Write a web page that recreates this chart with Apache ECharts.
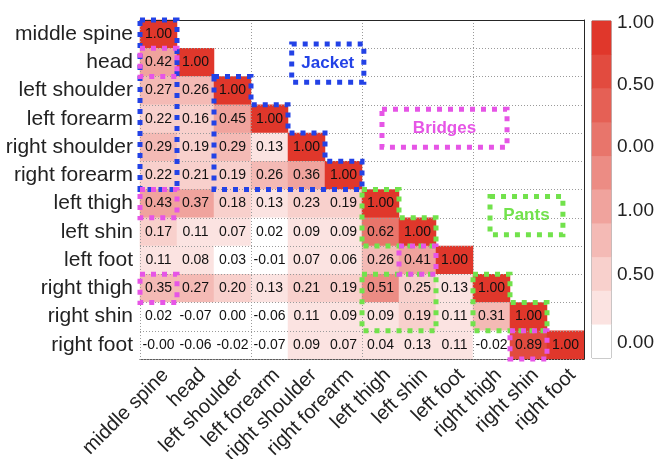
<!DOCTYPE html>
<html>
<head>
<meta charset="utf-8">
<script src="https://cdn.jsdelivr.net/npm/echarts@6/dist/echarts.min.js"></script>
<style>html,body{margin:0;padding:0;background:#fff}#c{width:655px;height:459px}</style>
</head>
<body>
<div id="c"></div>
<script>
// ---- data ----
const parts = ['middle spine','head','left shoulder','left forearm','right shoulder','right forearm','left thigh','left shin','left foot','right thigh','right shin','right foot'];
const corrRows = [
  [1.00],
  [0.42,1.00],
  [0.27,0.26,1.00],
  [0.22,0.16,0.45,1.00],
  [0.29,0.19,0.29,0.13,1.00],
  [0.22,0.21,0.19,0.26,0.36,1.00],
  [0.43,0.37,0.18,0.13,0.23,0.19,1.00],
  [0.17,0.11,0.07,0.02,0.09,0.09,0.62,1.00],
  [0.11,0.08,0.03,-0.01,0.07,0.06,0.26,0.41,1.00],
  [0.35,0.27,0.20,0.13,0.21,0.19,0.51,0.25,0.13,1.00],
  [0.02,-0.07,0.00,-0.06,0.11,0.09,0.09,0.19,0.11,0.31,1.00],
  [-0.004,-0.06,-0.02,-0.07,0.09,0.07,0.04,0.13,0.11,-0.02,0.89,1.00]
];
const levelThresholds = [-0.07,0.037,0.144,0.251,0.358,0.465,0.572,0.679,0.786,0.893,1.00];
const levelColors = ['#ffffff','#fbe3e1','#f8d0cc','#f4bab5','#f0a39d','#ec8c84','#e8756b','#e56055','#e24b3f','#e0372b'];
const cbTickPos = [0.994,0.811,0.627,0.438,0.246,0.044];
const cbTickText = ['1.00','0.50','0.00','1.00','0.50','0.00'];

// annotations (in cell-boundary units: [col, row])
const blueShapes = [
  [[0,0],[1,0],[1,6],[0,6]],
  [[2,2],[3,2],[3,3],[4,3],[4,4],[5,4],[5,5],[6,5],[6,6],[2,6]]
];
const magentaCells = [[0,1],[0,6],[0,9],[7,8],[10,11]];
const greenShapes = [
  [[6,6],[7,6],[7,7],[8,7],[8,8],[6,8]],
  [[6,9],[8,9],[8,11],[6,11]],
  [[9,9],[10,9],[10,10],[11,10],[11,11],[9,11]]
];
const labelBoxes = [
  {text:'Jacket', c0:4.1, r0:0.85, c1:6.05, r1:2.2, color:'#2342e6'},
  {text:'Bridges', c0:6.54, r0:3.16, c1:9.92, r1:4.5, color:'#e655e6'},
  {text:'Pants', c0:9.46, r0:6.25, c1:11.43, r1:7.6, color:'#72e24c'}
];

// ---- build ----
const heatData = [];
corrRows.forEach((row, i) => row.forEach((v, j) => heatData.push([j, i, v])));
const bandIdx = levelColors.map((_, i) => String(i));
const cbData = levelColors.map((_, i) => [0, i, (levelThresholds[i] + levelThresholds[i+1]) / 2]);
const pieces = levelColors.map((col, i) => {
  const p = {color: col};
  if (i > 0) p.gte = levelThresholds[i];
  if (i < levelColors.length - 1) p.lt = levelThresholds[i+1];
  return p;
});
const cbMap = {};
cbTickPos.forEach((p, i) => cbMap[p.toFixed(3)] = cbTickText[i]);

const FONT = '"Liberation Sans", Arial, sans-serif';
const AX = '#262626';
const chart = echarts.init(document.getElementById('c'), null, {renderer: 'canvas'});
chart.setOption({
  animation: false,
  backgroundColor: '#fff',
  textStyle: {fontFamily: FONT},
  grid: [
    {left: 140, top: 20, width: 444, height: 339, show: false, containLabel: false, outerBoundsMode: 'none'},
    {left: 592, top: 21, width: 19, height: 337, show: true, borderColor: '#777', borderWidth: 1, backgroundColor: 'transparent', containLabel: false, outerBoundsMode: 'none'}
  ],
  xAxis: [
    {type: 'category', data: parts, gridIndex: 0, position: 'bottom',
     axisLine: {lineStyle: {color: AX}}, axisTick: {inside: true, alignWithLabel: true, length: 4, lineStyle: {color: AX}},
     axisLabel: {rotate: 45, fontSize: 20, color: '#222', fontFamily: FONT, margin: 6, interval: 0, verticalAlign: 'top', hideOverlap: false},
     splitLine: {show: false}},
    {type: 'category', data: parts, gridIndex: 0, position: 'top', z: 3,
     axisLine: {lineStyle: {color: AX}}, axisTick: {inside: true, alignWithLabel: true, length: 4, lineStyle: {color: AX}},
     axisLabel: {show: false},
     splitLine: {show: true, lineStyle: {color: '#9a9a9a', type: [1, 2], width: 1}}},
    {type: 'category', data: ['cb'], gridIndex: 1, show: false}
  ],
  yAxis: [
    {type: 'category', data: parts, gridIndex: 0, inverse: true, position: 'left',
     axisLine: {lineStyle: {color: AX}}, axisTick: {inside: true, alignWithLabel: true, length: 4, lineStyle: {color: AX}},
     axisLabel: {fontSize: 21, color: '#222', fontFamily: FONT, margin: 7, interval: 0},
     splitLine: {show: false}},
    {type: 'category', data: parts, gridIndex: 0, inverse: true, position: 'right', z: 3,
     axisLine: {lineStyle: {color: AX}}, axisTick: {inside: true, alignWithLabel: true, length: 4, lineStyle: {color: AX}},
     axisLabel: {show: false},
     splitLine: {show: true, lineStyle: {color: '#9a9a9a', type: [1, 2], width: 1}}},
    {type: 'category', data: bandIdx, gridIndex: 1, position: 'left', show: false},
    {type: 'value', gridIndex: 1, position: 'right', min: 0, max: 1,
     axisLine: {show: false},
     axisTick: {show: true, inside: true, length: 3, lineStyle: {color: '#555'}, customValues: cbTickPos},
     axisLabel: {fontSize: 19, color: '#222', fontFamily: FONT, margin: 6, customValues: cbTickPos,
                 formatter: v => cbMap[Number(v).toFixed(3)] || ''},
     splitLine: {show: false}}
  ],
  visualMap: {type: 'piecewise', show: false, seriesIndex: [0, 1], dimension: 2, pieces: pieces},
  series: [
    {type: 'heatmap', xAxisIndex: 0, yAxisIndex: 0, data: heatData,
     itemStyle: {borderWidth: 0},
     emphasis: {disabled: true},
     label: {show: true, fontSize: 14, color: '#111', fontFamily: FONT,
             formatter: p => p.value[2].toFixed(2)}},
    {type: 'heatmap', xAxisIndex: 2, yAxisIndex: 2, data: cbData,
     itemStyle: {borderWidth: 0}, emphasis: {disabled: true}, label: {show: false}}
  ]
});

// ---- annotation overlays positioned through the axes ----
const p00 = chart.convertToPixel({gridIndex: 0}, [0, 0]);
const p11 = chart.convertToPixel({gridIndex: 0}, [1, 1]);
const cw = p11[0] - p00[0], ch = p11[1] - p00[1];
const ex = c => p00[0] + (c - 0.5) * cw;
const ey = r => p00[1] + (r - 0.5) * ch;
const toPts = shape => shape.map(([c, r]) => [ex(c), ey(r)]);
const dotted = color => ({fill: null, stroke: color, lineWidth: 5, lineDash: [5, 6], lineCap: 'butt'});
const graphics = [];
blueShapes.forEach(s => graphics.push({type: 'polygon', z: 100, shape: {points: toPts(s)}, style: dotted('#2342e6')}));
greenShapes.forEach(s => graphics.push({type: 'polygon', z: 100, shape: {points: toPts(s)}, style: dotted('#72e24c')}));
magentaCells.forEach(([c, r]) => graphics.push({type: 'polygon', z: 101,
  shape: {points: toPts([[c, r], [c+1, r], [c+1, r+1], [c, r+1]])}, style: dotted('#e655e6')}));
labelBoxes.forEach(b => {
  graphics.push({type: 'polygon', z: 100,
    shape: {points: toPts([[b.c0, b.r0], [b.c1, b.r0], [b.c1, b.r1], [b.c0, b.r1]])}, style: dotted(b.color)});
  graphics.push({type: 'text', z: 101, x: (ex(b.c0) + ex(b.c1)) / 2, y: (ey(b.r0) + ey(b.r1)) / 2,
    style: {text: b.text, fill: b.color, font: 'bold 17px ' + FONT, align: 'center', verticalAlign: 'middle'}});
});
chart.setOption({graphic: graphics});
</script>
</body>
</html>
